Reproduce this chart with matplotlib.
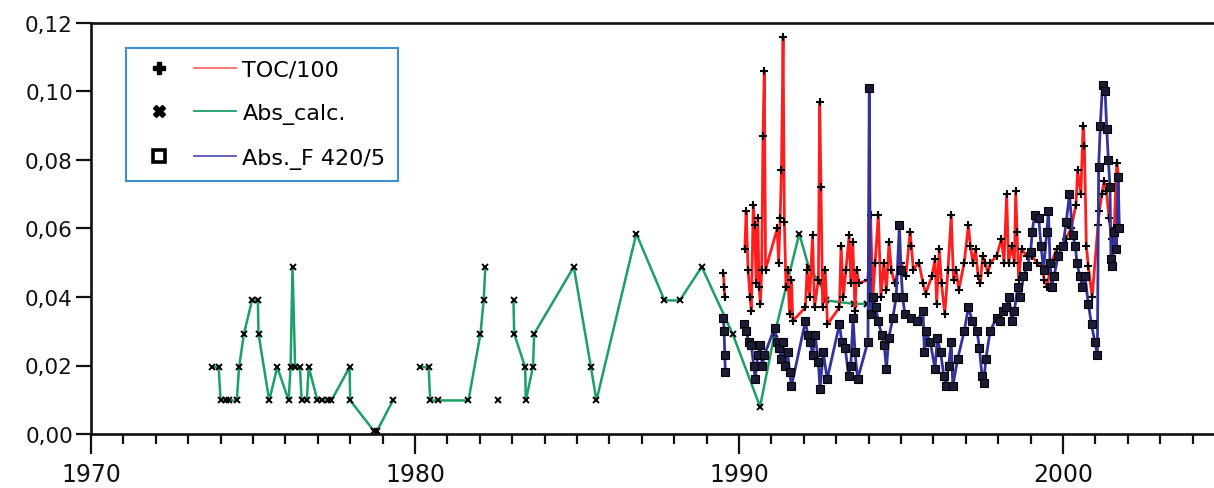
import numpy as np
import matplotlib
matplotlib.use("Agg")
import matplotlib.pyplot as plt
from matplotlib.lines import Line2D
from matplotlib.legend_handler import HandlerTuple
from matplotlib.ticker import FuncFormatter, MultipleLocator

nan = float("nan")

# ---- Abs_calc. (green) ----
green_year = [1973.73, 1973.94, 1974.00, 1974.16, 1974.25, 1974.50, 1974.57, 1974.72,
              1974.97, 1975.15, 1975.17, 1975.50, 1975.75, 1976.10, 1976.16, 1976.22,
              1976.30, 1976.45, 1976.50, 1976.66, 1976.72, 1976.99, 1977.14, 1977.30,
              1977.42, 1977.98, 1978.00, 1978.74, 1978.82, 1979.32, 1979.80,
              1980.16, 1980.42, 1980.47, 1980.70, 1981.65, 1982.02, 1982.12, 1982.17,
              1982.40, 1982.55, 1982.80,
              1983.04, 1983.06, 1983.40, 1983.42, 1983.64, 1983.68, 1984.90, 1985.43,
              1985.60, 1986.83, 1987.70, 1988.17, 1988.85, 1989.80, 1990.65, 1991.10,
              1991.86, 1992.15, 1992.50, 1992.70, 1993.55, 1993.95]
green_val = [0.0195, 0.0195, 0.0098, 0.0098, 0.0098, 0.0098, 0.0195, 0.0293,
             0.0390, 0.0390, 0.0293, 0.0098, 0.0195, 0.0098, 0.0195, 0.0488,
             0.0195, 0.0195, 0.0098, 0.0098, 0.0195, 0.0098, 0.0098, 0.0098,
             0.0098, 0.0195, 0.0098, 0.0008, 0.0008, 0.0098, nan,
             0.0195, 0.0195, 0.0098, 0.0098, 0.0098, 0.0293, 0.0390, 0.0488,
             nan, 0.0098, nan,
             0.0390, 0.0293, 0.0195, 0.0098, 0.0195, 0.0293, 0.0488, 0.0195,
             0.0098, 0.0585, 0.0390, 0.0390, 0.0488, 0.0293, 0.0080, 0.0293,
             0.0585, 0.0488, 0.0440, 0.0390, 0.0380, 0.0380]

# ---- TOC/100 (red) ----
red_year = [1989.52, 1989.54, 1989.56, 1989.90,
            1990.18, 1990.22, 1990.28, 1990.34, 1990.38, 1990.44, 1990.48, 1990.53,
            1990.58, 1990.62, 1990.66, 1990.70, 1990.74, 1990.78, 1990.82,
            1991.18, 1991.22, 1991.27, 1991.31, 1991.36, 1991.40, 1991.45, 1991.50,
            1991.56, 1991.62, 1991.66,
            1992.05, 1992.10, 1992.18, 1992.27, 1992.33, 1992.45, 1992.49, 1992.53,
            1992.58, 1992.66, 1992.73,
            1993.10, 1993.15, 1993.22, 1993.30, 1993.40, 1993.45, 1993.51, 1993.58,
            1993.63, 1993.70,
            1993.98, 1994.06, 1994.13, 1994.20, 1994.30, 1994.38, 1994.47, 1994.55,
            1994.63, 1994.70, 1994.80,
            1995.00, 1995.15, 1995.28, 1995.32, 1995.38, 1995.55, 1995.68, 1995.76,
            1995.95, 1996.05, 1996.10, 1996.18, 1996.25, 1996.35, 1996.45, 1996.55,
            1996.62, 1996.70, 1996.78,
            1996.95, 1997.08, 1997.14, 1997.22, 1997.30, 1997.38, 1997.45, 1997.52,
            1997.60, 1997.68, 1997.76,
            1997.95, 1998.10, 1998.18, 1998.26, 1998.32, 1998.42, 1998.50, 1998.54,
            1998.58, 1998.63, 1998.72, 1998.88,
            1999.04, 1999.20, 1999.35, 1999.42, 1999.50, 1999.65, 1999.80, 1999.97,
            2000.09, 2000.25, 2000.40, 2000.45, 2000.55, 2000.62, 2000.66, 2000.72,
            2000.78, 2000.90, 2001.08, 2001.12, 2001.20, 2001.27, 2001.34, 2001.42,
            2001.50, 2001.58, 2001.66, 2001.72]
red_val = [0.047, 0.043, 0.040, nan,
           0.054, 0.065, 0.048, 0.040, 0.036, 0.067, 0.061, 0.044,
           0.063, 0.043, 0.038, 0.048, 0.087, 0.106, 0.048,
           0.060, 0.050, 0.063, 0.077, 0.116, 0.062, 0.043, 0.048,
           0.035, 0.045, 0.033,
           0.037, 0.048, 0.040, 0.058, 0.037, 0.045, 0.097, 0.072,
           0.037, 0.048, 0.032,
           0.037, 0.055, 0.040, 0.048, 0.058, 0.044, 0.056, 0.036,
           0.048, 0.044,
           0.045, 0.064, 0.040, 0.050, 0.064, 0.040, 0.050, 0.042,
           0.056, 0.048, 0.044,
           0.050, 0.046, 0.059, 0.055, 0.048, 0.050, 0.044, 0.041,
           0.046, 0.051, 0.038, 0.054, 0.044, 0.035, 0.048, 0.064,
           0.045, 0.048, 0.042,
           0.050, 0.061, 0.055, 0.050, 0.054, 0.046, 0.044, 0.052,
           0.050, 0.047, 0.050,
           0.052, 0.057, 0.050, 0.070, 0.050, 0.055, 0.050, 0.071,
           0.059, 0.045, 0.054, 0.052,
           0.052, 0.050, 0.049, 0.045, 0.043, 0.050, 0.054, 0.055,
           0.057, 0.060, 0.067, 0.077, 0.070, 0.090, 0.084, 0.055,
           0.049, 0.040, 0.061, 0.065, 0.070, 0.074, 0.071, 0.063,
           0.057, 0.060, 0.079, 0.075]

# ---- Abs._F 420/5 (blue) ----
blue_year = [1989.52, 1989.54, 1989.56, 1989.58, 1989.90,
             1990.15, 1990.22, 1990.30, 1990.38, 1990.45, 1990.50, 1990.58, 1990.65,
             1990.72, 1990.78,
             1991.10, 1991.17, 1991.24, 1991.30, 1991.35, 1991.42, 1991.50, 1991.56,
             1991.62,
             1992.05, 1992.12, 1992.20, 1992.27, 1992.35, 1992.45, 1992.50, 1992.60,
             1992.72,
             1993.10, 1993.17, 1993.28, 1993.38, 1993.45, 1993.52, 1993.58, 1993.66,
             1993.98, 1994.02, 1994.06, 1994.15, 1994.22, 1994.30, 1994.40, 1994.48,
             1994.55, 1994.62,
             1994.75, 1994.85, 1994.95, 1995.00, 1995.05, 1995.12, 1995.30, 1995.50,
             1995.68, 1995.72, 1995.76, 1995.90, 1996.05, 1996.12, 1996.22, 1996.32,
             1996.38, 1996.47, 1996.55, 1996.60, 1996.75,
             1996.95, 1997.08, 1997.20, 1997.35, 1997.42, 1997.50, 1997.55, 1997.62,
             1997.75,
             1997.95, 1998.05, 1998.15, 1998.25, 1998.33, 1998.42, 1998.50, 1998.60,
             1998.68, 1998.78, 1998.90, 1999.00, 1999.05, 1999.12, 1999.25, 1999.32,
             1999.40, 1999.50, 1999.55, 1999.60, 1999.65, 1999.72, 1999.85, 2000.00,
             2000.10, 2000.20, 2000.30, 2000.38, 2000.43, 2000.52, 2000.60, 2000.68,
             2000.78, 2000.88, 2000.98, 2001.06, 2001.10, 2001.15, 2001.22, 2001.30,
             2001.35, 2001.40, 2001.45, 2001.48, 2001.52, 2001.58, 2001.65, 2001.70,
             2001.74]
blue_val = [0.034, 0.030, 0.023, 0.018, nan,
            0.032, 0.030, 0.027, 0.026, 0.020, 0.016, 0.023, 0.026,
            0.020, 0.023,
            0.031, 0.027, 0.025, 0.022, 0.027, 0.020, 0.024, 0.018,
            0.014,
            0.033, 0.029, 0.027, 0.023, 0.029, 0.021, 0.013, 0.024,
            0.016,
            0.032, 0.027, 0.025, 0.017, 0.020, 0.034, 0.024, 0.016,
            0.027, 0.101, 0.035, 0.040, 0.037, 0.033, 0.029, 0.026,
            0.019, 0.028,
            0.034, 0.040, 0.061, 0.048, 0.040, 0.035, 0.034, 0.033,
            0.036, 0.024, 0.030, 0.027, 0.019, 0.028, 0.024, 0.017,
            0.014, 0.020, 0.027, 0.014, 0.022,
            0.030, 0.037, 0.033, 0.030, 0.025, 0.017, 0.015, 0.022,
            0.030,
            0.034, 0.033, 0.036, 0.037, 0.040, 0.033, 0.036, 0.043,
            0.040, 0.046, 0.049, 0.053, 0.059, 0.064, 0.063, 0.055,
            0.048, 0.059, 0.065, 0.050, 0.043, 0.046, 0.052, 0.055,
            0.062, 0.070, 0.058, 0.055, 0.050, 0.046, 0.043, 0.046,
            0.038, 0.032, 0.027, 0.023, 0.078, 0.090, 0.102, 0.100,
            0.089, 0.080, 0.072, 0.051, 0.049, 0.059, 0.054, 0.075,
            0.060]

series_labels = ["TOC/100", "Abs_calc.", "Abs._F 420/5"]
x_ticks = [1970, 1980, 1990, 2000]
y_ticks = [0.00, 0.02, 0.04, 0.06, 0.08, 0.10, 0.12]

RED = "#ff1e1e"
GREEN = "#1c9f68"
BLUE = "#33339c"

fig = plt.figure(figsize=(12.14, 4.89), dpi=100)
ax = fig.add_axes([91 / 1214, 54 / 489, 1123 / 1214, 411 / 489])

ax.plot(green_year, green_val, color=GREEN, lw=1.8, marker="x", ms=5,
        mec="black", mew=1.4, zorder=2)
ax.plot(red_year, red_val, color=RED, lw=2.0, marker="+", ms=6,
        mec="black", mew=1.5, zorder=3)
ax.plot(blue_year, blue_val, color=BLUE, lw=2.0, marker="s", ms=6,
        mfc="#1b1b38", mec="black", mew=0.8, zorder=4)

ax.set_xlim(1970, 2004.66)
ax.set_ylim(0, 0.12)

ax.set_xticks(x_ticks)
ax.xaxis.set_minor_locator(MultipleLocator(1))
ax.set_yticks(y_ticks)
ax.yaxis.set_major_formatter(FuncFormatter(lambda v, p: f"{v:.2f}".replace(".", ",")))

for side in ["left", "bottom", "top"]:
    ax.spines[side].set_linewidth(1.9)
    ax.spines[side].set_color("#111111")
ax.spines["right"].set_visible(False)

ax.tick_params(axis="x", which="major", direction="out", length=14.5, width=1.6,
               pad=6, labelsize=17, colors="#111111")
ax.tick_params(axis="x", which="minor", direction="out", length=7.5, width=1.6,
               colors="#111111")
ax.tick_params(axis="y", which="major", direction="out", length=11, width=1.6,
               pad=2, labelsize=15.5, colors="#111111")

# legend: marker, then line, then label
mk_red = Line2D([], [], ls="none", marker="P", color="black", ms=8)
ln_red = Line2D([], [], color="#ff6a6a", lw=1.3)
mk_green = Line2D([], [], ls="none", marker="X", color="black", ms=8)
ln_green = Line2D([], [], color=GREEN, lw=1.3)
mk_blue = Line2D([], [], ls="none", marker="s", mfc="white", mec="black", mew=2.6, ms=8)
ln_blue = Line2D([], [], color="#5555bb", lw=1.3)

leg = ax.legend(handles=[(mk_red, ln_red), (mk_green, ln_green), (mk_blue, ln_blue)],
                labels=series_labels,
                handler_map={tuple: HandlerTuple(ndivide=None, pad=0.6)},
                loc="upper left", bbox_to_anchor=(0.031, 0.94), borderaxespad=0,
                fontsize=16, handlelength=4.4, handletextpad=0.3,
                labelspacing=1.05, borderpad=0.55, fancybox=False, framealpha=1)
leg.get_frame().set_edgecolor("#3a8fd6")
leg.get_frame().set_linewidth(1.5)

fig.savefig("out.png", dpi=100)
